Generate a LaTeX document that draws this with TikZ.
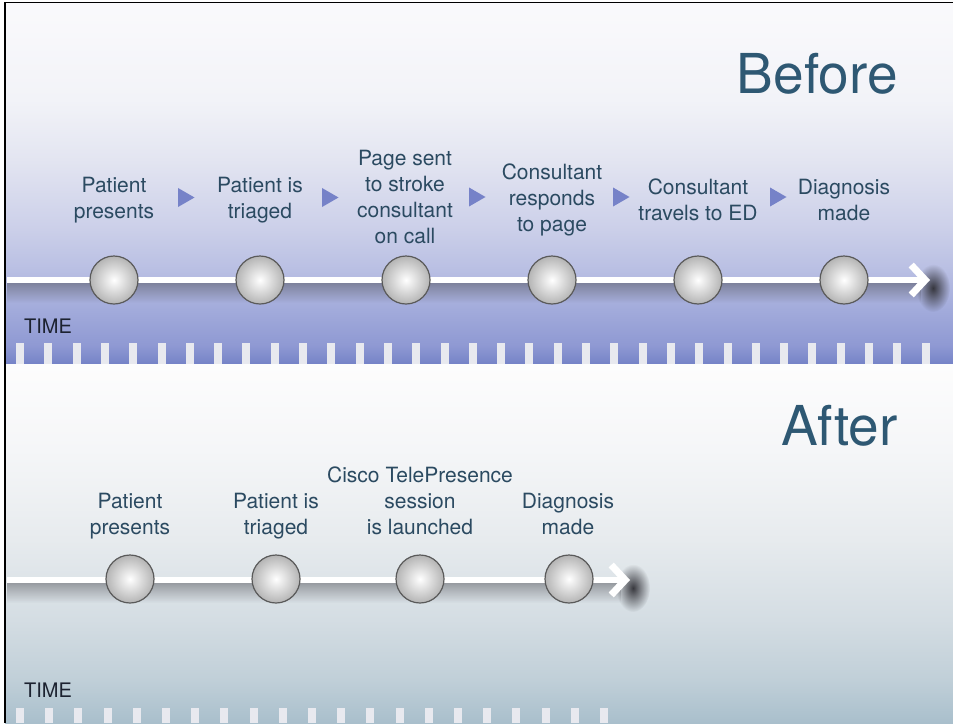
\documentclass[tikz,border=0pt]{standalone}
\usepackage{fontspec}
\setmainfont{TeX Gyre Heros}
\usetikzlibrary{arrows.meta,shapes.geometric,fadings}

% palette
\definecolor{tA}{HTML}{FAFAFC}
\definecolor{tB}{HTML}{F2F3F8}
\definecolor{tC}{HTML}{E3E5F1}
\definecolor{tD}{HTML}{CBCFE9}
\definecolor{tE}{HTML}{B9BFE3}
\definecolor{tF}{HTML}{A2ABDB}
\definecolor{tG}{HTML}{8F99D3}
\definecolor{tH}{HTML}{7583C7}
\definecolor{bA}{HTML}{FDFDFD}
\definecolor{bB}{HTML}{F5F6F8}
\definecolor{bC}{HTML}{E7EBEE}
\definecolor{bD}{HTML}{D4DDE3}
\definecolor{bE}{HTML}{C0CFD8}
\definecolor{bF}{HTML}{A9BFCC}
\definecolor{labelcol}{HTML}{2B4A61}
\definecolor{headcol}{HTML}{2E5873}
\definecolor{timecol}{HTML}{1C2230}
\definecolor{tricol}{HTML}{7682C8}
\definecolor{tickcol}{HTML}{E8E9EF}
\definecolor{ballrim}{HTML}{5A5A5A}
\definecolor{ballout}{HTML}{B4B4B4}
\definecolor{shadowcol}{HTML}{303036}

% band shadings (bottom = 25bp, top = 75bp)
\pgfdeclareverticalshading{upperband}{100bp}{%
  color(0bp)=(tH); color(25bp)=(tH); color(27.6bp)=(tG); color(32.5bp)=(tF);
  color(38bp)=(tE); color(43.6bp)=(tD); color(53.3bp)=(tC); color(61.6bp)=(tB);
  color(75bp)=(tA); color(100bp)=(tA)}
\pgfdeclareverticalshading{lowerband}{100bp}{%
  color(0bp)=(bF); color(25bp)=(bF); color(31bp)=(bE); color(39.4bp)=(bD);
  color(50.6bp)=(bC); color(63.1bp)=(bB); color(75bp)=(bA); color(100bp)=(bA)}

% soft shadows
\tikzfading[name=shadowdown, top color=transparent!0, bottom color=transparent!100]
\tikzfading[name=softblob, inner color=transparent!0, outer color=transparent!100]

\begin{document}
\begin{tikzpicture}[x=1pt,y=-1pt,
  lbl/.style={align=center, font=\fontsize{21}{26}\selectfont, text=labelcol, inner sep=0pt},
  head/.style={font=\fontsize{55}{60}\selectfont, text=headcol, inner sep=0pt, anchor=base east},
  timelbl/.style={font=\fontsize{20}{24}\selectfont, text=timecol, inner sep=0pt, anchor=base west},
  flowtri/.style={regular polygon, regular polygon sides=3, shape border rotate=-90,
    minimum size=22pt, inner sep=0pt, fill=tricol},
  ball/.style={circle, minimum size=48pt, inner sep=0pt, draw=ballrim, line width=1.2pt,
    inner color=white, outer color=ballout},
  timeline/.style={draw=white, line width=6pt,
    -{Straight Barb[length=14pt,width=30pt,line width=7pt]}},
  tick/.style={fill=tickcol},
  lineshadow/.style={fill=shadowcol, fill opacity=0.42, path fading=shadowdown},
  tipshadow/.style={fill=shadowcol, fill opacity=0.95, path fading=softblob}
]
\useasboundingbox (0,0) rectangle (953,723);

% background bands
\shade[shading=upperband] (5,2.5) rectangle (953,364);
\shade[shading=lowerband] (5,364) rectangle (953,723);

% time ticks
\foreach \k in {0,...,32} \fill[tick] ({16+28.3*\k},343) rectangle ++(8,21);
\foreach \k in {0,...,20} \fill[tick] ({16+29.2*\k},708) rectangle ++(8,15);

% frame
\draw[line width=1.5pt, black] (5,723) -- (5,2.5) -- (953,2.5);

% headings and axis labels
\node[head] (before) at (898,93) {Before};
\node[head] (after) at (898,445) {After};
\node[timelbl] (time1) at (24,333) {TIME};
\node[timelbl] (time2) at (24,697) {TIME};

% upper timeline
\coordinate (a0) at (7,280);
\coordinate (aE) at (930,280);
\fill[lineshadow] (7,282) rectangle (922,303);
\fill[tipshadow] (933,288) ellipse [x radius=17, y radius=24];
\draw[timeline] (a0) -- (aE);
\node[ball] (a1) at (114,280) {};
\node[ball] (a2) at (260,280) {};
\node[ball] (a3) at (406,280) {};
\node[ball] (a4) at (552,280) {};
\node[ball] (a5) at (698,280) {};
\node[ball] (a6) at (844,280) {};

\node[lbl] (la1) at (114,200) {Patient\\presents};
\node[lbl] (la2) at (260,200) {Patient is\\triaged};
\node[lbl] (la3) at (405,197) {Page sent\\to stroke\\consultant\\on call};
\node[lbl] (la4) at (552,200) {Consultant\\responds\\to page};
\node[lbl] (la5) at (698,200) {Consultant\\travels to ED};
\node[lbl] (la6) at (844,200) {Diagnosis\\made};

\node[flowtri] (f1) at (183.5,197.5) {};
\node[flowtri] (f2) at (327.5,197.5) {};
\node[flowtri] (f3) at (474.5,197) {};
\node[flowtri] (f4) at (618.5,197) {};
\node[flowtri] (f5) at (775.5,197) {};

% lower timeline
\coordinate (b0) at (7,580);
\coordinate (bE) at (630,580);
\fill[lineshadow] (7,582) rectangle (622,603);
\fill[tipshadow] (633,588) ellipse [x radius=17, y radius=24];
\draw[timeline] (b0) -- (bE);
\node[ball] (b1) at (130,579) {};
\node[ball] (b2) at (276,579) {};
\node[ball] (b3) at (420,579) {};
\node[ball] (b4) at (569,579) {};

\node[lbl, anchor=south] (lb1) at (130,542) {Patient\\presents\strut};
\node[lbl, anchor=south] (lb2) at (276,542) {Patient is\\triaged\strut};
\node[lbl, anchor=south] (lb3) at (420,542) {Cisco TelePresence\\session\\is launched\strut};
\node[lbl, anchor=south] (lb4) at (568,542) {Diagnosis\\made\strut};
\end{tikzpicture}
\end{document}
